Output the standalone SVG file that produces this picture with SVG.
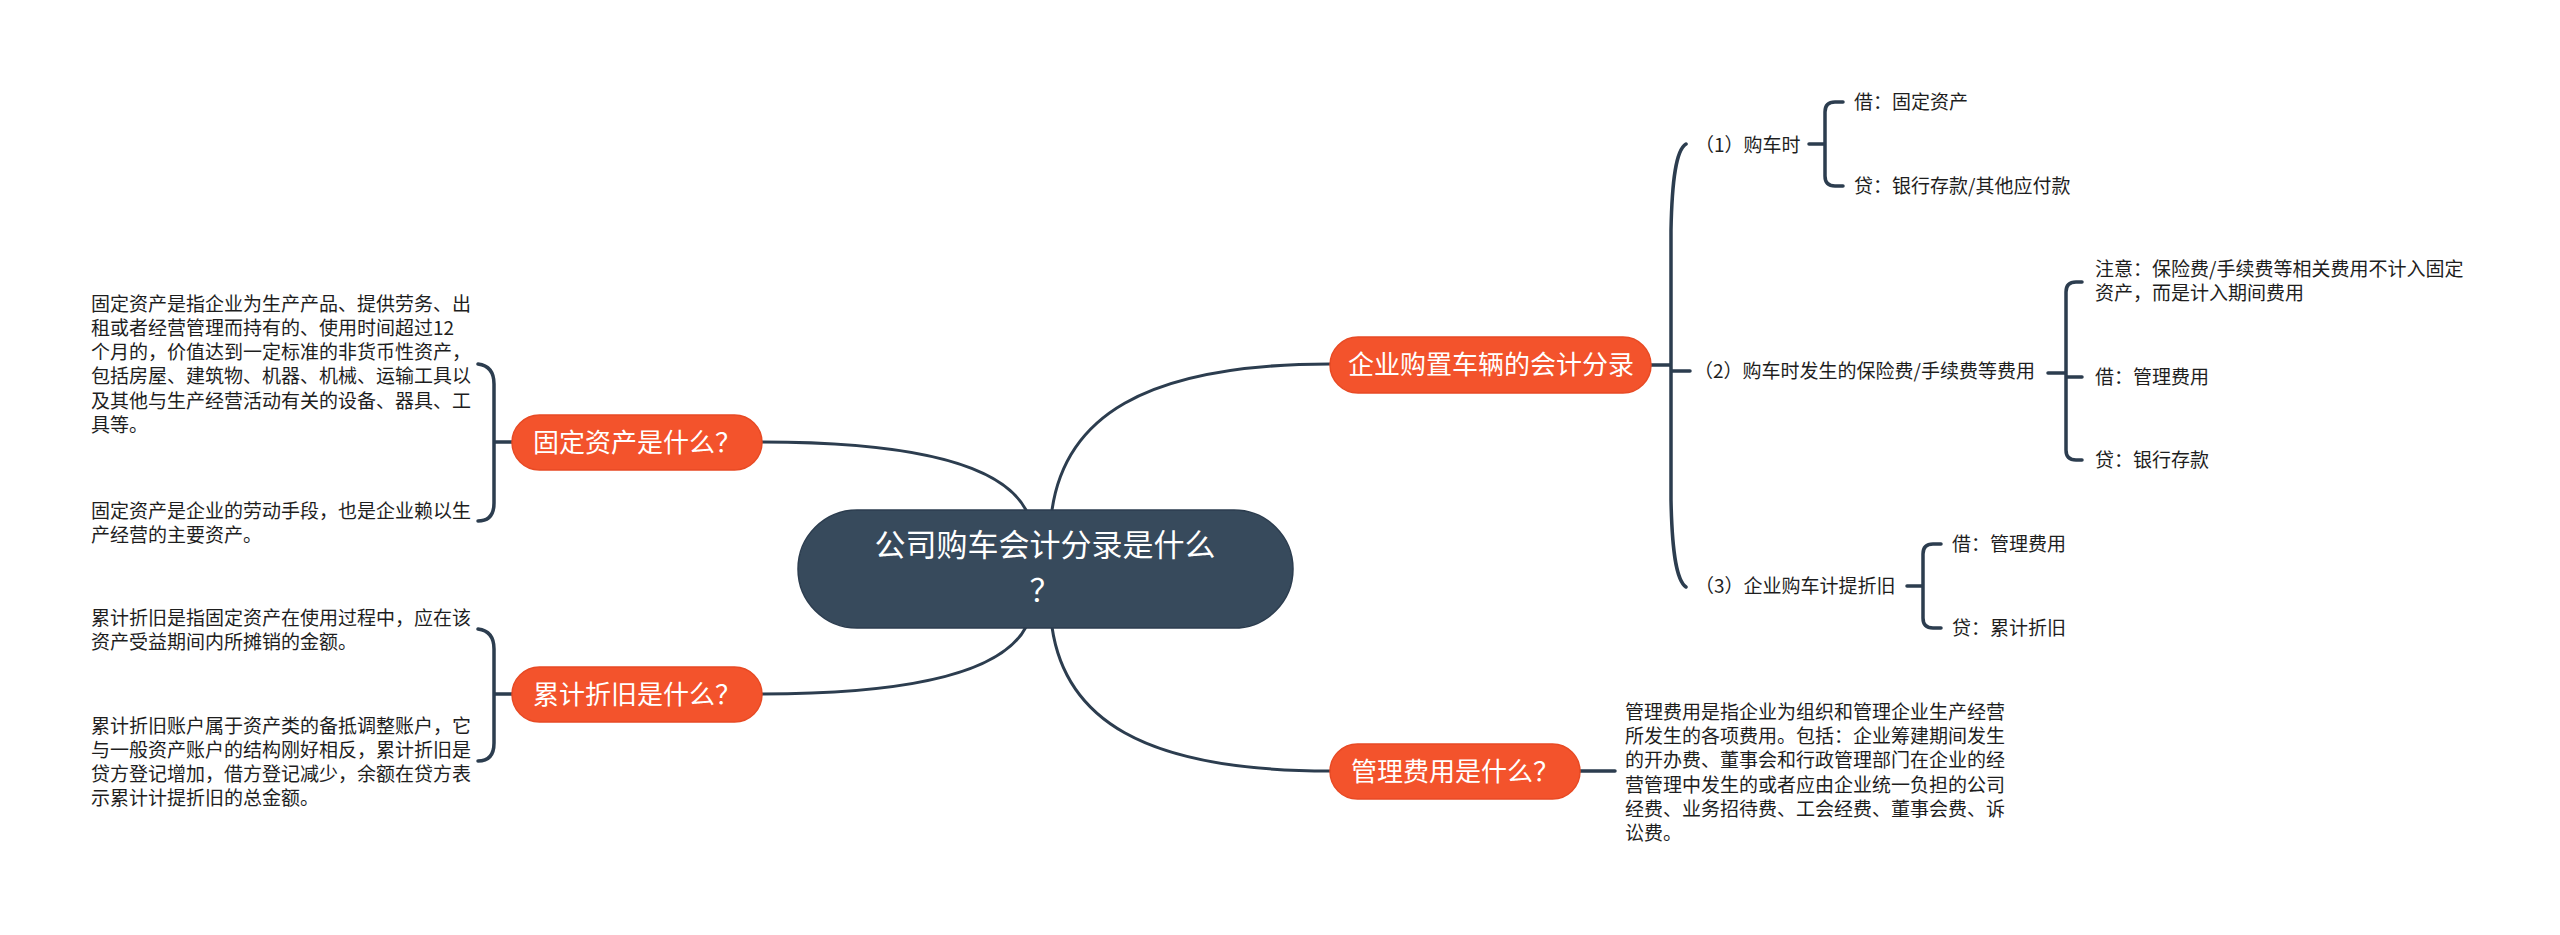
<svg xmlns="http://www.w3.org/2000/svg" width="2560" height="935" viewBox="0 0 2560 935">
<style>
.conn{fill:none;stroke:#2c3d4f;stroke-width:3;stroke-linecap:round}
.br{fill:none;stroke:#2c3d4f;stroke-width:3.5;stroke-linecap:round}
.t{font-family:"Noto Sans CJK SC","Noto Sans",sans-serif;font-size:19px;fill:#1e1e1e}
.sub{fill:#f3532c;stroke:#e84a24;stroke-width:1.5}
.subt{font-family:"Noto Sans CJK SC","Noto Sans",sans-serif;font-size:26px;fill:#ffffff;text-anchor:middle}
.root{fill:#374a5c;stroke:#2c3d4f;stroke-width:1.5}
.roott{font-family:"Noto Sans CJK SC","Noto Sans",sans-serif;font-size:31px;fill:#ffffff;text-anchor:middle}
</style>
<rect x="0" y="0" width="2560" height="935" fill="#ffffff"/>
<g id="connectors">
<path class="conn" d="M1026,510 C1005,470 930,442 762,442"/>
<path class="conn" d="M1026,627 C1005,667 930,694 762,694"/>
<path class="conn" d="M1052,510 C1065,420 1140,364 1330,364"/>
<path class="conn" d="M1052,627 C1065,717 1140,771 1330,771"/>
<path class="br" d="M478,364 Q494,366 494,384 L494,503 Q494,521 478,521 M494,442 L512,442"/>
<path class="br" d="M478,629 Q494,631 494,649 L494,743 Q494,761 478,761 M494,694 L512,694"/>
<path class="br" d="M1651,365 L1671,365 M1686,144 C1676,150 1672,180 1671,230 L1671,500 C1672,550 1676,580 1686,587 M1671,371 L1690,371"/>
<path class="br" d="M1809,144 L1825,144 M1843,102 L1835,102 Q1825,102 1825,112 L1825,176 Q1825,186 1835,186 L1843,186"/>
<path class="br" d="M2048,373 L2066,373 M2082,282 L2076,282 Q2066,282 2066,292 L2066,450 Q2066,460 2076,460 L2082,460 M2066,377 L2082,377"/>
<path class="br" d="M1907,586 L1923,586 M1941,544 L1933,544 Q1923,544 1923,554 L1923,618 Q1923,628 1933,628 L1941,628"/>
<path class="br" d="M1580,771 L1615,771"/>
</g>
<g id="root">
<rect class="root" x="798" y="510" width="495" height="118" rx="59"/>
<text class="roott"><tspan x="1045" y="556">公司购车会计分录是什么</tspan><tspan x="1045" y="601">？</tspan></text>
</g>
<g id="n-gudingzichan">
<rect class="sub" x="512" y="415" width="250" height="55" rx="27.5"/>
<text class="subt" x="637" y="452">固定资产是什么？</text>
</g>
<g id="n-gudingzichan-t1">
<text class="t" x="91" y="311">固定资产是指企业为生产产品、提供劳务、出</text>
<text class="t" x="91" y="335">租或者经营管理而持有的、使用时间超过12</text>
<text class="t" x="91" y="359">个月的，价值达到一定标准的非货币性资产，</text>
<text class="t" x="91" y="383">包括房屋、建筑物、机器、机械、运输工具以</text>
<text class="t" x="91" y="408">及其他与生产经营活动有关的设备、器具、工</text>
<text class="t" x="91" y="432">具等。</text>
</g>
<g id="n-gudingzichan-t2">
<text class="t" x="91" y="518">固定资产是企业的劳动手段，也是企业赖以生</text>
<text class="t" x="91" y="542">产经营的主要资产。</text>
</g>
<g id="n-leijizhejiu">
<rect class="sub" x="512" y="667" width="250" height="55" rx="27.5"/>
<text class="subt" x="637" y="704">累计折旧是什么？</text>
</g>
<g id="n-leijizhejiu-t1">
<text class="t" x="91" y="625">累计折旧是指固定资产在使用过程中，应在该</text>
<text class="t" x="91" y="649">资产受益期间内所摊销的金额。</text>
</g>
<g id="n-leijizhejiu-t2">
<text class="t" x="91" y="733">累计折旧账户属于资产类的备抵调整账户，它</text>
<text class="t" x="91" y="757">与一般资产账户的结构刚好相反，累计折旧是</text>
<text class="t" x="91" y="781">贷方登记增加，借方登记减少，余额在贷方表</text>
<text class="t" x="91" y="805">示累计计提折旧的总金额。</text>
</g>
<g id="n-qiye">
<rect class="sub" x="1330" y="337" width="321" height="56" rx="28"/>
<text class="subt" x="1491" y="374">企业购置车辆的会计分录</text>
</g>
<g id="n-c1">
<text class="t" x="1695" y="152">（1）购车时</text>
</g>
<g id="n-c1a"><text class="t" x="1854" y="109">借：固定资产</text></g>
<g id="n-c1b"><text class="t" x="1854" y="193">贷：银行存款/其他应付款</text></g>
<g id="n-c2">
<text class="t" x="1694" y="378">（2）购车时发生的保险费/手续费等费用</text>
</g>
<g id="n-c2a">
<text class="t" x="2095" y="276">注意：保险费/手续费等相关费用不计入固定</text>
<text class="t" x="2095" y="300">资产，而是计入期间费用</text>
</g>
<g id="n-c2b"><text class="t" x="2095" y="384">借：管理费用</text></g>
<g id="n-c2c"><text class="t" x="2095" y="467">贷：银行存款</text></g>
<g id="n-c3">
<text class="t" x="1695" y="593">（3）企业购车计提折旧</text>
</g>
<g id="n-c3a"><text class="t" x="1952" y="551">借：管理费用</text></g>
<g id="n-c3b"><text class="t" x="1952" y="635">贷：累计折旧</text></g>
<g id="n-guanli">
<rect class="sub" x="1330" y="744" width="250" height="55" rx="27.5"/>
<text class="subt" x="1455" y="781">管理费用是什么？</text>
</g>
<g id="n-guanli-t">
<text class="t" x="1625" y="719">管理费用是指企业为组织和管理企业生产经营</text>
<text class="t" x="1625" y="743">所发生的各项费用。包括：企业筹建期间发生</text>
<text class="t" x="1625" y="767">的开办费、董事会和行政管理部门在企业的经</text>
<text class="t" x="1625" y="792">营管理中发生的或者应由企业统一负担的公司</text>
<text class="t" x="1625" y="816">经费、业务招待费、工会经费、董事会费、诉</text>
<text class="t" x="1625" y="840">讼费。</text>
</g>
</svg>
